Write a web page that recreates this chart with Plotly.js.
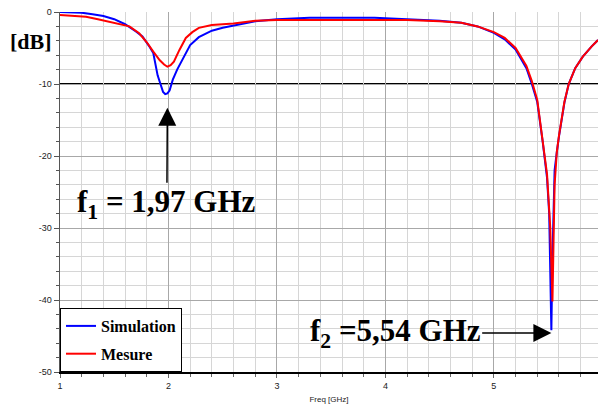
<!DOCTYPE html>
<html>
<head>
<meta charset="utf-8">
<script src="https://cdn.plot.ly/plotly-3.0.1.min.js"></script>
<style>html,body{margin:0;padding:0;background:#fff;}#chart{width:598px;height:407px;}</style>
</head>
<body>
<div id="chart"></div>
<script>
// Frequencies (GHz) and S11 (dB)
const freqSim = [1.0, 1.1, 1.2, 1.3, 1.4, 1.5, 1.6, 1.7, 1.76, 1.82, 1.86, 1.9, 1.93, 1.95, 1.97, 1.99, 2.01, 2.04, 2.08, 2.12, 2.16, 2.2, 2.28, 2.4, 2.5, 2.6, 2.8, 3.0, 3.3, 3.6, 3.9, 4.2, 4.5, 4.7, 4.85, 5.0, 5.1, 5.2, 5.3, 5.35, 5.4, 5.45, 5.49, 5.51, 5.52, 5.53, 5.54, 5.55, 5.56, 5.58, 5.6, 5.65, 5.69, 5.75, 5.82, 5.9, 5.96];
const dbSim   = [0, -0.02, -0.1, -0.3, -0.55, -1.0, -1.7, -2.7, -3.4, -4.7, -5.7, -8.8, -10.3, -11.1, -11.4, -11.3, -10.9, -9.4, -8.0, -6.9, -5.6, -4.6, -3.5, -2.6, -2.2, -1.9, -1.3, -1.0, -0.8, -0.8, -0.8, -1.0, -1.2, -1.5, -2.0, -2.9, -3.8, -5.2, -7.8, -10.0, -12.5, -18.0, -23, -28, -34, -44.2, -34, -26, -22, -19.5, -17.3, -12.6, -10.0, -7.8, -6.2, -4.8, -3.9];

const freqMes = [1.0, 1.12, 1.24, 1.35, 1.46, 1.55, 1.64, 1.73, 1.8, 1.86, 1.92, 1.96, 1.99, 2.02, 2.05, 2.1, 2.16, 2.22, 2.28, 2.4, 2.6, 2.8, 3.0, 3.3, 3.6, 3.9, 4.2, 4.5, 4.7, 4.85, 5.0, 5.1, 5.2, 5.3, 5.35, 5.4, 5.45, 5.49, 5.52, 5.53, 5.54, 5.55, 5.56, 5.58, 5.6, 5.65, 5.69, 5.75, 5.82, 5.9, 5.96];
const dbMes   = [-0.4, -0.5, -0.65, -1.0, -1.35, -1.7, -2.0, -2.95, -4.2, -5.5, -6.7, -7.3, -7.6, -7.4, -6.9, -5.3, -3.6, -2.8, -2.2, -1.8, -1.6, -1.2, -1.1, -1.1, -1.1, -1.1, -1.1, -1.3, -1.5, -2.0, -2.8, -3.6, -5.0, -7.5, -9.6, -12.2, -17.6, -22.5, -30, -36, -40.2, -32, -24, -19.5, -17.2, -12.5, -10.0, -7.8, -6.2, -4.8, -3.9];

const seriesNames = ['Simulation', 'Mesure'];
const xTickVals = [1, 2, 3, 4, 5];
const xTickText = ['1', '2', '3', '4', '5'];
const yTickVals = [0, -10, -20, -30, -40, -50];
const yTickText = ['0', '-10', '-20', '-30', '-40', '-50'];
const refLevel = -10;
const f1 = {freq: 1.99, db: -13.3, textX: 1.985, textY: -26.7, label: '<b>f<sub>1</sub> = 1,97 GHz</b>'};
const f2 = {freq: 5.53, db: -44.6, textX: 4.09, textY: -44.6, label: '<b>f<sub>2</sub> =5,54 GHz</b>'};

const traces = [
  {x: freqSim, y: dbSim, name: seriesNames[0], type: 'scatter', mode: 'lines',
   line: {color: '#0000ff', width: 2}, legendgroup: 'a'},
  {x: freqMes, y: dbMes, name: seriesNames[1], type: 'scatter', mode: 'lines',
   line: {color: '#ff0000', width: 2}, legendgroup: 'b'}
];

const serif = '"Liberation Serif", "Times New Roman", serif';
const sans = '"Liberation Sans", Arial, sans-serif';

const layout = {
  width: 598, height: 407,
  margin: {l: 60, r: 0, t: 12, b: 35},
  paper_bgcolor: '#ffffff', plot_bgcolor: '#ffffff',
  showlegend: true,
  legend: {x: 0, y: 0, xanchor: 'left', yanchor: 'bottom', bgcolor: '#ffffff',
    bordercolor: '#000000', borderwidth: 1, traceorder: 'grouped', tracegroupgap: 4,
    font: {family: serif, size: 16, color: '#000', weight: 'bold'}},
  xaxis: {range: [1, 5.96], tickmode: 'array', tickvals: xTickVals, ticktext: xTickText,
    showgrid: true, gridcolor: '#a8a8a8', gridwidth: 1, zeroline: false,
    showline: true, linecolor: '#000', linewidth: 2,
    ticks: 'outside', ticklen: 4, tickcolor: '#666',
    tickfont: {family: sans, size: 9, color: '#222'},
    minor: {tick0: 1, dtick: 0.2, showgrid: true, gridcolor: '#d6d6d6', gridwidth: 1, ticks: 'outside', ticklen: 3, tickcolor: '#666'},
    title: {text: 'Freq [GHz]', font: {family: sans, size: 8, color: '#222'}, standoff: 7}},
  yaxis: {range: [-50, 0], tickmode: 'array', tickvals: yTickVals, ticktext: yTickText,
    showgrid: true, gridcolor: '#a8a8a8', gridwidth: 1, zeroline: false,
    showline: true, linecolor: '#555', linewidth: 1.5,
    ticks: 'outside', ticklen: 5, tickcolor: '#555',
    tickfont: {family: sans, size: 9, color: '#222'},
    minor: {tick0: 0, dtick: 2, showgrid: true, gridcolor: '#d6d6d6', gridwidth: 1, ticks: 'outside', ticklen: 3, tickcolor: '#555'}},
  shapes: [
    {type: 'line', xref: 'paper', x0: 0, x1: 1, yref: 'y', y0: refLevel, y1: refLevel,
     line: {color: '#000', width: 2}, layer: 'below'}
  ],
  annotations: [
    {xref: 'paper', yref: 'paper', x: -0.054, y: 0.917, xanchor: 'center', yanchor: 'middle',
     text: '<b>[dB]</b>', showarrow: false,
     font: {family: serif, size: 22, color: '#000'}},
    {x: f1.freq, y: f1.db, ax: f1.textX, ay: f1.textY, axref: 'x', ayref: 'y', text: f1.label,
     showarrow: true, arrowhead: 2, arrowsize: 2.4, arrowwidth: 1.5, arrowcolor: '#000', standoff: 0,
     font: {family: serif, size: 31, color: '#000'}},
    {x: f2.freq, y: f2.db, ax: f2.textX, ay: f2.textY, axref: 'x', ayref: 'y', text: f2.label,
     showarrow: true, arrowhead: 2, arrowsize: 2.4, arrowwidth: 1.5, arrowcolor: '#000', standoff: 0,
     font: {family: serif, size: 31, color: '#000'}}
  ]
};

Plotly.newPlot('chart', traces, layout, {staticPlot: true, displayModeBar: false});
</script>
</body>
</html>
